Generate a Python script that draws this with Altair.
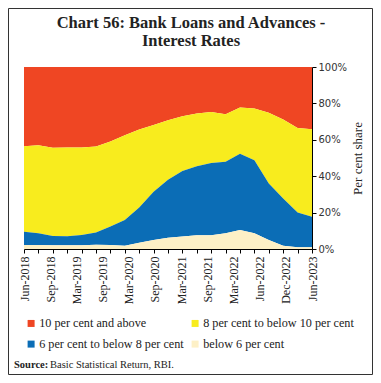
import json
import altair as alt
import pandas as pd

# ---- data (per cent shares, quarterly) ----
period_index = list(range(21))
tick_labels = ["Jun-2018", "Sep-2018", "Mar-2019", "Sep-2019", "Mar-2020", "Sep-2020",
               "Mar-2021", "Sep-2021", "Mar-2022", "Jun-2022", "Dec-2022", "Jun-2023"]

above10 = [43.5, 43.0, 44.4, 44.2, 44.2, 43.7, 40.9, 37.5, 34.4, 31.8, 29.2,
           27.0, 25.5, 24.7, 26.0, 22.3, 22.8, 25.2, 28.9, 33.5, 34.2]
r8_10 = [47.0, 48.4, 48.5, 48.8, 48.1, 47.3, 46.8, 46.5, 42.8, 36.7, 32.8,
         30.2, 29.0, 28.1, 26.0, 25.4, 28.4, 38.8, 43.3, 46.4, 48.1]
r6_8 = [7.3, 6.4, 5.0, 4.9, 5.6, 6.7, 10.1, 14.2, 19.3, 26.5, 31.8,
        36.0, 38.0, 39.6, 39.4, 41.9, 40.2, 31.1, 26.0, 19.1, 16.8]
below6 = [2.2, 2.2, 2.1, 2.1, 2.1, 2.3, 2.2, 1.8, 3.5, 5.0, 6.2,
          6.8, 7.5, 7.6, 8.6, 10.4, 8.6, 4.9, 1.8, 1.0, 0.9]

series_names = ["10 per cent and above", "8 per cent to below 10 per cent",
                "6 per cent to below 8 per cent", "below 6 per cent"]
series_colors = ["#EF4623", "#F8EC1E", "#0B6DB6", "#FDF0C6"]
stack_rank = [3, 2, 1, 0]

title_lines = ["Chart 56: Bank Loans and Advances -", "Interest Rates"]

rows = []
for name, vals, rank in zip(series_names, [above10, r8_10, r6_8, below6], stack_rank):
    for i, v in zip(period_index, vals):
        rows.append({"idx": i, "series": name, "share": v, "rank": rank})
df = pd.DataFrame(rows)

# ticks at every period, labels spread evenly across the axis (as in the source chart)
n_lab = len(tick_labels) - 1
last = period_index[-1]
label_pos = [k * last / n_lab for k in range(n_lab + 1)]
axis_values = sorted(set(period_index) | set(label_pos))
kexpr = f"datum.value * {n_lab} / {last}"
label_expr = (f"abs({kexpr} - round({kexpr})) < 0.001 ? "
              + json.dumps(tick_labels) + f"[round({kexpr})] : ''")

area = alt.Chart(df).mark_area(interpolate="linear").encode(
    x=alt.X("idx:Q",
            scale=alt.Scale(domain=[0, last], nice=False, zero=False),
            axis=alt.Axis(values=axis_values, labelExpr=label_expr, labelAngle=270,
                          title=None, grid=False, tickSize=4, labelFont="Liberation Serif",
                          labelFontSize=12, labelColor="#222", domainColor="#000",
                          tickColor="#000",
                          tickOpacity={"condition": {"test": "abs(datum.value - round(datum.value)) < 0.001", "value": 1}, "value": 0},
                          labelPadding=3, labelFlush=False, labelOverlap=False)),
    y=alt.Y("share:Q", stack="zero",
            scale=alt.Scale(domain=[0, 100], nice=False),
            axis=alt.Axis(orient="right", values=[0, 20, 40, 60, 80, 100],
                          labelExpr="datum.value + '%'", title="Per cent share",
                          titleAngle=270, titleFont="Liberation Serif", titleFontSize=13,
                          titleFontWeight="normal", titleColor="#222", titlePadding=18,
                          labelFont="DejaVu Sans", labelFontSize=10, labelColor="#333",
                          grid=False, tickSize=4, domainColor="#000", tickColor="#000",
                          labelPadding=2)),
    color=alt.Color("series:N",
                    scale=alt.Scale(domain=series_names, range=series_colors),
                    legend=alt.Legend(orient="none", legendX=1, legendY=250, columns=2,
                                      direction="horizontal",
                                      title=None, symbolType="square", symbolSize=49,
                                      symbolStrokeWidth=0, labelFont="Liberation Serif",
                                      labelFontSize=12.2, labelColor="#222",
                                      labelLimit=300, columnPadding=5, rowPadding=8,
                                      labelOffset=2, padding=0)),
    order=alt.Order("rank:Q", sort="ascending"),
)

t1 = alt.Chart(pd.DataFrame({"t": [title_lines[0]]})).mark_text(
    align="center", baseline="alphabetic", font="Liberation Serif", fontSize=16.5,
    fontWeight="bold", color="#222"
).encode(text="t:N", x=alt.value(167), y=alt.value(-39))

t2 = alt.Chart(pd.DataFrame({"t": [title_lines[1]]})).mark_text(
    align="center", baseline="alphabetic", font="Liberation Serif", fontSize=16.5,
    fontWeight="bold", color="#222"
).encode(text="t:N", x=alt.value(167), y=alt.value(-21))

one = pd.DataFrame({"t": ["Source:"]})
src_bold = alt.Chart(one).mark_text(
    align="left", baseline="alphabetic", font="Liberation Serif", fontSize=10.5,
    fontWeight="bold", color="#222"
).encode(text="t:N", x=alt.value(-10), y=alt.value(301))

two = pd.DataFrame({"t": ["Basic Statistical Return, RBI."]})
src_rest = alt.Chart(two).mark_text(
    align="left", baseline="alphabetic", font="Liberation Serif", fontSize=10.5,
    color="#222"
).encode(text="t:N", x=alt.value(26), y=alt.value(301))

frame = alt.Chart(one).mark_rect(fill="transparent", stroke="#333", strokeWidth=1).encode(
    x=alt.value(-15.5), x2=alt.value(348.5), y=alt.value(-58.5), y2=alt.value(307.5)
)

chart = alt.layer(area, t1, t2, src_bold, src_rest, frame).properties(
    width=288, height=182,
    autosize=alt.AutoSizeParams(type="none"),
    padding={"left": 16, "top": 59, "right": 61, "bottom": 126},
).configure_view(strokeWidth=0).configure(background="white")

chart.save("out.html", embed_options={"renderer": "svg", "actions": False})
